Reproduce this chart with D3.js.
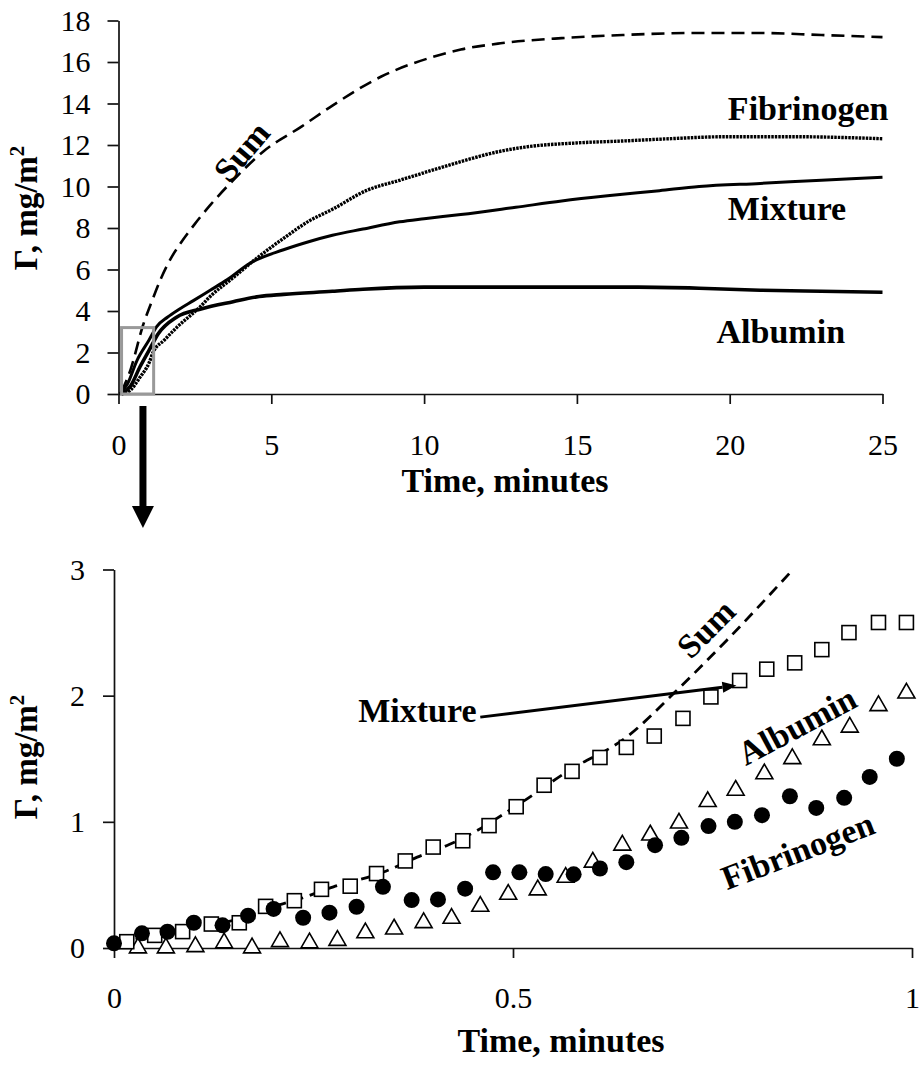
<!DOCTYPE html>
<html>
<head>
<meta charset="utf-8">
<script src="https://cdn.jsdelivr.net/npm/d3@7"></script>
<style>
  html, body { margin: 0; padding: 0; background: #fff; }
  svg { display: block; }
  text { font-family: "Liberation Serif", "Times New Roman", serif; fill: #000; }
</style>
</head>
<body>
<svg id="chart" width="920" height="1070"></svg>
<script>
// ---------- Top chart data (0–25 min) ----------
const sumTopT = [0.1, 0.4, 0.8, 1.1, 1.4, 1.7, 2.0, 2.5, 3.0, 3.75, 4.75, 6.0, 7.0, 8.6, 10.3, 11.2, 12.5, 14.5, 16.5, 19, 21, 23, 25];
const sumTopY = [0.1, 1.2, 3.3, 4.5, 5.6, 6.5, 7.2, 8.2, 9.1, 10.3, 11.7, 12.9, 13.9, 15.3, 16.25, 16.6, 16.9, 17.15, 17.3, 17.4, 17.4, 17.3, 17.2];

const albTopT = [0.1, 0.4, 0.7, 1.0, 1.3, 1.9, 2.7, 3.75, 4.6, 5.4, 7, 8, 10, 12, 15, 17, 19, 21, 23, 25];
const albTopY = [0, 0.4, 1.3, 2.1, 2.9, 3.7, 4.1, 4.45, 4.7, 4.8, 4.95, 5.05, 5.15, 5.15, 5.15, 5.15, 5.1, 5.0, 4.95, 4.9];

const mixTopT = [0.05, 0.3, 0.6, 1.0, 1.25, 1.6, 2.0, 2.45, 3.0, 3.55, 4.3, 5.4, 6.25, 7.0, 8, 9.2, 10, 11.2, 13, 14.5, 16, 17.7, 19, 21, 23, 25];
const mixTopY = [0, 0.5, 1.6, 2.6, 3.25, 3.7, 4.1, 4.5, 5.0, 5.5, 6.3, 6.95, 7.35, 7.65, 7.95, 8.3, 8.45, 8.65, 9.0, 9.3, 9.55, 9.8, 10.0, 10.15, 10.3, 10.45];

const fibTopT = [0.1, 0.4, 0.7, 1.0, 1.13, 1.5, 1.9, 2.67, 3.0, 3.75, 4.4, 5.4, 6.25, 7.0, 8.1, 9.2, 10.3, 11.2, 12.5, 13.3, 15, 16.6, 18, 19.9, 22, 24, 25];
const fibTopY = [0, 0.2, 0.8, 1.5, 2.0, 2.6, 3.2, 4.2, 4.7, 5.6, 6.4, 7.5, 8.35, 8.9, 9.8, 10.3, 10.8, 11.2, 11.7, 11.9, 12.1, 12.2, 12.3, 12.4, 12.4, 12.35, 12.3];

const topXTicks = [0, 5, 10, 15, 20, 25];
const topYTicks = [0, 2, 4, 6, 8, 10, 12, 14, 16, 18];

// ---------- Bottom chart data (0–1 min) ----------
const mixBotT = [0.016, 0.051, 0.086, 0.122, 0.157, 0.19, 0.226, 0.26, 0.296, 0.329, 0.365, 0.40, 0.437, 0.470, 0.504, 0.539, 0.574, 0.609, 0.642, 0.677, 0.713, 0.748, 0.784, 0.818, 0.853, 0.887, 0.921, 0.958, 0.993];
const mixBotY = [0.05, 0.10, 0.13, 0.19, 0.20, 0.33, 0.375, 0.465, 0.49, 0.59, 0.69, 0.80, 0.85, 0.97, 1.12, 1.29, 1.40, 1.51, 1.59, 1.68, 1.82, 1.99, 2.12, 2.21, 2.26, 2.365, 2.50, 2.58, 2.58];

const fibBotT = [0, 0.035, 0.067, 0.10, 0.136, 0.168, 0.20, 0.237, 0.27, 0.304, 0.337, 0.373, 0.406, 0.44, 0.475, 0.508, 0.541, 0.576, 0.609, 0.642, 0.678, 0.711, 0.745, 0.778, 0.812, 0.847, 0.880, 0.915, 0.947, 0.981];
const fibBotY = [0.037, 0.116, 0.129, 0.20, 0.18, 0.256, 0.31, 0.24, 0.28, 0.327, 0.485, 0.38, 0.385, 0.47, 0.60, 0.60, 0.586, 0.584, 0.63, 0.68, 0.815, 0.873, 0.966, 1.0, 1.053, 1.203, 1.11, 1.19, 1.356, 1.50];

const albBotT = [0.030, 0.065, 0.102, 0.138, 0.173, 0.208, 0.245, 0.28, 0.315, 0.351, 0.388, 0.423, 0.459, 0.494, 0.531, 0.566, 0.60, 0.637, 0.672, 0.708, 0.744, 0.779, 0.815, 0.85, 0.887, 0.922, 0.958, 0.993];
const albBotY = [0.0, 0.0, 0.01, 0.04, 0.0, 0.05, 0.04, 0.06, 0.12, 0.15, 0.20, 0.235, 0.33, 0.425, 0.46, 0.56, 0.68, 0.815, 0.895, 0.99, 1.16, 1.25, 1.38, 1.50, 1.65, 1.75, 1.92, 2.02];

const sumBotT = [0.005, 0.05, 0.1, 0.15, 0.19, 0.233, 0.275, 0.337, 0.38, 0.42, 0.44, 0.505, 0.571, 0.642, 0.705, 0.768, 0.848];
const sumBotY = [0.04, 0.10, 0.17, 0.22, 0.31, 0.39, 0.485, 0.60, 0.72, 0.82, 0.88, 1.13, 1.41, 1.67, 2.04, 2.44, 2.98];

const botXTicks = [0, 0.5, 1];
const botYTicks = [0, 1, 2, 3];

// ---------- Drawing ----------
const svg = d3.select("#chart");
const zip = (a, b) => a.map((v, i) => [v, b[i]]);

const xTop = d3.scaleLinear().domain([0, 25]).range([118.5, 882.5]);
const yTop = d3.scaleLinear().domain([0, 18]).range([394, 20.5]);
const xBot = d3.scaleLinear().domain([0, 1]).range([114, 912]);
const yBot = d3.scaleLinear().domain([0, 3]).range([948, 569.5]);

const TICK_FS = 30;
function styleAxis(g) {
  g.attr("font-family", null).attr("font-size", null);
  g.select(".domain").attr("stroke", "#111").attr("stroke-width", 1.7);
  g.selectAll(".tick line").attr("stroke", "#111").attr("stroke-width", 1.7);
  g.selectAll(".tick text").attr("font-size", TICK_FS).attr("fill", "#000")
    .style("font-family", '"Liberation Serif","Times New Roman",serif');
}

// ---- Top axes ----
const gTX = svg.append("g").attr("transform", `translate(0,${yTop(0)})`)
  .call(d3.axisBottom(xTop).tickValues(topXTicks).tickSize(10).tickSizeOuter(0).tickPadding(29.5).tickFormat(d3.format("~g")));
styleAxis(gTX);
const gTY = svg.append("g").attr("transform", `translate(${xTop(0)},0)`)
  .call(d3.axisLeft(yTop).tickValues(topYTicks).tickSize(11).tickSizeOuter(0).tickPadding(17).tickFormat(d3.format("~g")));
styleAxis(gTY);

// ---- Bottom axes ----
const gBX = svg.append("g").attr("transform", `translate(0,${yBot(0)})`)
  .call(d3.axisBottom(xBot).tickValues(botXTicks).tickSize(10).tickSizeOuter(0).tickPadding(28.5).tickFormat(d3.format("~g")));
styleAxis(gBX);
const gBY = svg.append("g").attr("transform", `translate(${xBot(0)},0)`)
  .call(d3.axisLeft(yBot).tickValues(botYTicks).tickSize(11).tickSizeOuter(0).tickPadding(18).tickFormat(d3.format("~g")));
styleAxis(gBY);

// ---- Axis titles ----
function yTitle(cx, cy) {
  const t = svg.append("text")
    .attr("transform", `translate(${cx},${cy}) rotate(-90)`)
    .attr("text-anchor", "middle")
    .attr("font-size", 33).attr("font-weight", "bold");
  t.append("tspan").text("Γ, mg/m");
  t.append("tspan").attr("font-size", 21).attr("dy", -13).text("2");
}
yTitle(36.5, 208);
yTitle(36.5, 757);

svg.append("text").attr("x", 505).attr("y", 492).attr("text-anchor", "middle")
  .attr("font-size", 34).attr("font-weight", "bold").text("Time, minutes");
svg.append("text").attr("x", 561).attr("y", 1052).attr("text-anchor", "middle")
  .attr("font-size", 34).attr("font-weight", "bold").text("Time, minutes");

// ---- Top curves ----
const lineTop = d3.line().x(d => xTop(d[0])).y(d => yTop(d[1])).curve(d3.curveMonotoneX);

svg.append("path").attr("d", lineTop(zip(albTopT, albTopY)))
  .attr("fill", "none").attr("stroke", "#000").attr("stroke-width", 3.6);
svg.append("path").attr("d", lineTop(zip(mixTopT, mixTopY)))
  .attr("fill", "none").attr("stroke", "#000").attr("stroke-width", 3);
svg.append("path").attr("d", lineTop(zip(fibTopT, fibTopY)))
  .attr("fill", "none").attr("stroke", "#000").attr("stroke-width", 3.4)
  .attr("stroke-dasharray", "2.5,1");
svg.append("path").attr("d", lineTop(zip(sumTopT, sumTopY)))
  .attr("fill", "none").attr("stroke", "#000").attr("stroke-width", 2.6)
  .attr("stroke-dasharray", "13,7");

// gray zoom box
svg.append("rect")
  .attr("x", xTop(0.1)).attr("y", yTop(3.2))
  .attr("width", xTop(1.15) - xTop(0.1)).attr("height", yTop(0) - yTop(3.2))
  .attr("fill", "none").attr("stroke", "#999").attr("stroke-width", 3);

// big downward arrow
const ax = xTop(0.8);
svg.append("rect").attr("x", ax - 3.5).attr("y", yTop(0) + 12).attr("width", 7).attr("height", 102).attr("fill", "#000");
svg.append("path")
  .attr("d", `M${ax - 11},${yTop(0) + 112} L${ax + 11},${yTop(0) + 112} L${ax},${yTop(0) + 134} Z`)
  .attr("fill", "#000");

// labels
function label(x, y, txt, rot) {
  const t = svg.append("text").attr("font-size", 34).attr("font-weight", "bold").text(txt);
  if (rot !== undefined) {
    t.attr("transform", `translate(${x},${y}) rotate(${rot})`)
     .attr("text-anchor", "middle").attr("dominant-baseline", "central");
  } else {
    t.attr("x", x).attr("y", y);
  }
  return t;
}
label(xTop(19.94), yTop(13.2), "Fibrinogen");
label(xTop(19.94), yTop(8.39), "Mixture");
label(xTop(19.57), yTop(2.46), "Albumin");
label(xTop(4.03), yTop(11.68), "Sum", -50);

// ---- Bottom marks ----
const lineBot = d3.line().x(d => xBot(d[0])).y(d => yBot(d[1])).curve(d3.curveMonotoneX);
svg.append("path").attr("d", lineBot(zip(sumBotT, sumBotY)))
  .attr("fill", "none").attr("stroke", "#000").attr("stroke-width", 2.8)
  .attr("stroke-dasharray", "11,7");

// triangles (Albumin)
svg.append("g").selectAll("path").data(zip(albBotT, albBotY)).join("path")
  .attr("d", d3.symbol(d3.symbolTriangle, 125))
  .attr("transform", d => `translate(${xBot(d[0])},${yBot(d[1])})`)
  .attr("fill", "#fff").attr("stroke", "#000").attr("stroke-width", 1.6);

// squares (Mixture)
svg.append("g").selectAll("rect").data(zip(mixBotT, mixBotY)).join("rect")
  .attr("x", d => xBot(d[0]) - 7).attr("y", d => yBot(d[1]) - 7)
  .attr("width", 14).attr("height", 14)
  .attr("fill", "#fff").attr("stroke", "#000").attr("stroke-width", 1.6);

// circles (Fibrinogen)
svg.append("g").selectAll("circle").data(zip(fibBotT, fibBotY)).join("circle")
  .attr("cx", d => xBot(d[0])).attr("cy", d => yBot(d[1])).attr("r", 8)
  .attr("fill", "#000");

// bottom labels
label(xBot(0.306), yBot(1.79), "Mixture");
label(xBot(0.742), yBot(2.53), "Sum", -45);
label(xBot(0.856), yBot(1.76), "Albumin", -28);
label(xBot(0.857), yBot(0.77), "Fibrinogen", -21);

// Mixture pointer arrow
const x1 = xBot(0.459), y1 = yBot(1.83), x2 = xBot(0.780), y2 = yBot(2.08);
const ang = Math.atan2(y2 - y1, x2 - x1);
const hl = 14, hw = 5.5;
const bx = x2 - hl * Math.cos(ang), by = y2 - hl * Math.sin(ang);
svg.append("line").attr("x1", x1).attr("y1", y1).attr("x2", bx).attr("y2", by)
  .attr("stroke", "#000").attr("stroke-width", 3);
svg.append("path")
  .attr("d", `M${x2},${y2} L${bx - hw * Math.sin(ang)},${by + hw * Math.cos(ang)} L${bx + hw * Math.sin(ang)},${by - hw * Math.cos(ang)} Z`)
  .attr("fill", "#000");
</script>
</body>
</html>
